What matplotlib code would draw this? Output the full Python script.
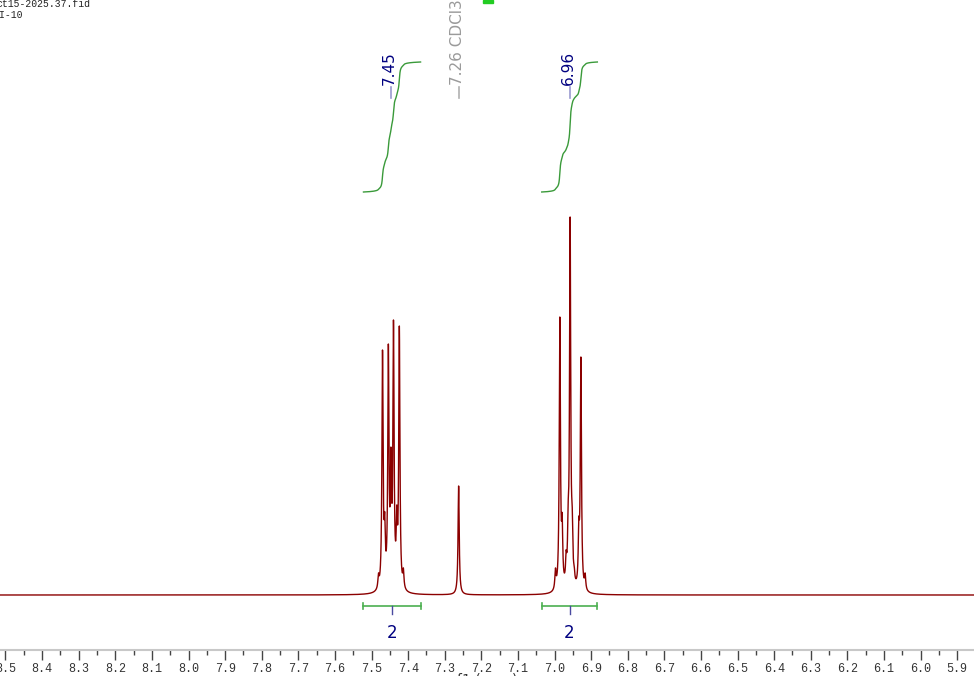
import numpy as np
import matplotlib.pyplot as plt
from matplotlib.ticker import MultipleLocator, FormatStrFormatter

# peaks: position (ppm) and apex height (px above baseline)
ar1_ppm = [7.481, 7.470, 7.464, 7.454, 7.447, 7.440, 7.431, 7.424, 7.413]
ar1_h = [22, 245, 83, 251, 148, 275, 90, 269, 27]
ar2_ppm = [6.9975, 6.9855, 6.9792, 6.9683, 6.9628, 6.9574, 6.9519, 6.9464,
           6.9336, 6.9280, 6.9164]
ar2_h = [27, 278, 82, 45, 93, 378, 92, 30, 78, 238, 22]
solv_ppm = [7.262]
solv_h = [109]

# peak labels
label_ppm = [7.447, 6.959]
solv_label = "7.26 CDCl3"

# integrals: (start, end) in ppm and value
integ_ranges = [(7.522, 7.366), (7.035, 6.883)]
integ_vals = ["2", "2"]

xmin, xmax = 8.515, 5.854
hw = 0.0019  # lorentzian half width, ppm

pos = np.array(ar1_ppm + ar2_ppm + solv_ppm)
hts = np.array(ar1_h + ar2_h + solv_h, dtype=float)


def lor(x, x0):
    return 1.0 / (1.0 + ((x - x0) / hw) ** 2)


# solve amplitudes so that the summed curve hits the read apex heights
A = lor(pos[:, None], pos[None, :])
amp = np.linalg.solve(A, hts)

x = np.sort(np.concatenate([np.linspace(xmax, xmin, 40000), pos]))[::-1]
y = (amp[None, :] * lor(x[:, None], pos[None, :])).sum(axis=1)

fig = plt.figure(figsize=(9.74, 6.76), dpi=100)
ax = fig.add_axes([0, 26 / 676, 1, 650 / 676])
ax.set_xlim(xmin, xmax)
ax.set_ylim(-55, 595)

ax.plot(x, y, color="#8b0000", lw=1.0)

# integral curves and bars
for (a, b), val in zip(integ_ranges, integ_vals):
    m = (x <= a) & (x >= b)
    xs, ys = x[m], y[m]
    cum = np.concatenate([[0], np.cumsum(0.5 * (ys[1:] + ys[:-1]) * np.abs(np.diff(xs)))])
    cum = cum / cum[-1]
    ax.plot(xs, 403 + 130 * cum, color="#3a9a3a", lw=1.0)
    ax.plot([a, b], [-11, -11], color="#4caf50", lw=1.2)
    ax.plot([a, a], [-14, -8], color="#4caf50", lw=1.2)
    ax.plot([b, b], [-14, -8], color="#4caf50", lw=1.2)
    c = (a + b) / 2
    ax.plot([c, c], [-11, -19], color="#4a4aa0", lw=1.0)
    ax.text(c, -38, val, ha="center", va="center", color="#000080", fontsize=12)

# peak labels
for p in label_ppm:
    ax.plot([p, p], [497, 508], color="#9a9ad0", lw=1.2)
    ax.text(p + 0.004, 510, f"{p:.2f}", rotation=90, ha="center", va="bottom",
            color="#000080", fontsize=11)
p = solv_ppm[0]
ax.plot([p, p], [497, 508], color="#b0b0b0", lw=1.2)
ax.text(p + 0.004, 510, solv_label, rotation=90, ha="center", va="bottom",
        color="#9a9a9a", fontsize=11)

# axis styling
for s in ["top", "left", "right"]:
    ax.spines[s].set_visible(False)
ax.spines["bottom"].set_color("#c8c8c8")
ax.spines["bottom"].set_linewidth(1.5)
ax.set_yticks([])
ax.xaxis.set_major_locator(MultipleLocator(0.1))
ax.xaxis.set_minor_locator(MultipleLocator(0.05))
ax.xaxis.set_major_formatter(FormatStrFormatter("%.1f"))
ax.tick_params(axis="x", which="major", direction="out", length=7, width=1,
               color="#444444", labelsize=8.5, pad=2, labelcolor="#333333")
ax.tick_params(axis="x", which="minor", direction="out", length=3.5, width=1,
               color="#444444")
for t in ax.get_xticklabels():
    t.set_fontfamily("Liberation Mono")

fig.text(487 / 974, 1 - 673 / 676, "f1 (ppm)", ha="center", va="top",
         fontsize=10, color="#333333")

# file info in the top-left corner
fig.text(-4 / 974, 1 - 9 / 676, "ct15-2025.37.fid", ha="left", va="bottom",
         fontsize=7, family="Liberation Mono", color="#222222")
fig.text(-1 / 974, 1 - 20 / 676, "I-10", ha="left", va="bottom",
         fontsize=7, family="Liberation Mono", color="#222222")

fig.patches.append(plt.Rectangle((483 / 974, 1 - 3 / 676), 10 / 974, 3 / 676,
                                 transform=fig.transFigure, color="#22cc22"))

fig.savefig("out.png", dpi=100)
